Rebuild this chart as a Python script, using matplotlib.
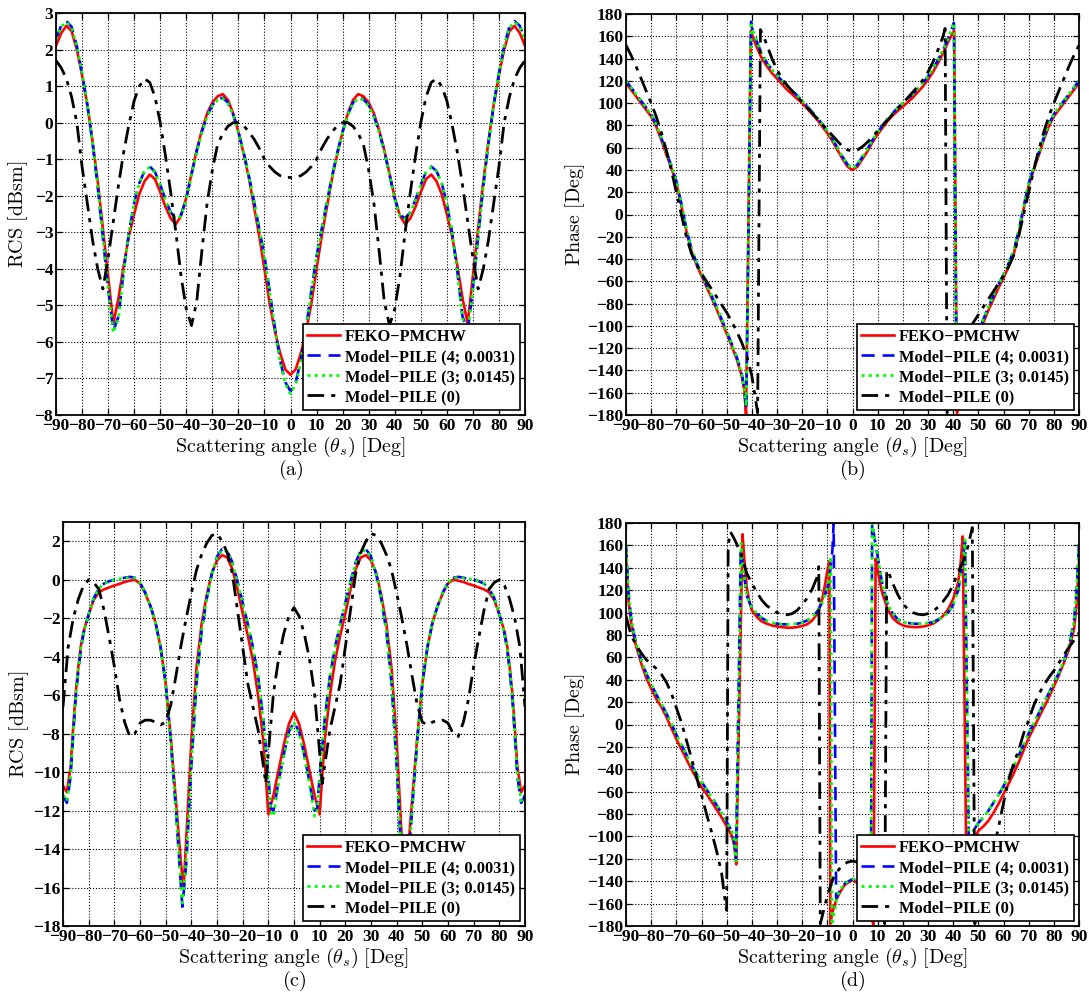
import matplotlib
matplotlib.use("Agg")
import matplotlib.pyplot as plt

plt.rcParams["font.family"] = "serif"
plt.rcParams["font.serif"] = ["Liberation Serif", "DejaVu Serif"]
plt.rcParams["mathtext.fontset"] = "cm"

LABELS = ["FEKO\u2212PMCHW", "Model\u2212PILE (4; 0.0031)",
          "Model\u2212PILE (3; 0.0145)", "Model\u2212PILE (0)"]

# ---------------- (a) RCS, case 1 ----------------
a_x = list(range(-90, 91, 2))
a_feko = [2.10, 2.45, 2.65, 2.50, 2.00, 1.30, 0.50, -0.50, -1.60, -2.90, -4.20, -5.50, -4.80, -3.90,
          -3.10, -2.50, -1.95, -1.60, -1.42, -1.55, -1.90, -2.30, -2.62, -2.78, -2.55, -2.05, -1.40,
          -0.75, -0.20, 0.25, 0.55, 0.72, 0.78, 0.62, 0.25, -0.25, -0.85, -1.50, -2.30, -3.10, -4.00,
          -4.95, -5.70, -6.30, -6.75, -6.90,
          -6.75, -6.30, -5.70, -4.95, -4.00, -3.10, -2.30, -1.50, -0.85, -0.25, 0.25, 0.62, 0.78, 0.72,
          0.55, 0.25, -0.20, -0.75, -1.40, -2.05, -2.55, -2.78, -2.62, -2.30, -1.90, -1.55, -1.42, -1.60,
          -1.95, -2.50, -3.10, -3.90, -4.80, -5.50, -4.20, -2.90, -1.60, -0.50, 0.50, 1.30, 2.00, 2.50,
          2.65, 2.45, 2.10]
a_pile4 = [2.30, 2.65, 2.78, 2.62, 2.10, 1.35, 0.50, -0.55, -1.75, -3.15, -4.55, -5.70, -5.30, -4.05,
           -3.00, -2.20, -1.65, -1.32, -1.20, -1.35, -1.70, -2.10, -2.45, -2.62, -2.52, -2.08, -1.42,
           -0.78, -0.25, 0.18, 0.48, 0.64, 0.68, 0.55, 0.22, -0.25, -0.80, -1.45, -2.15, -2.90, -3.65,
           -4.60, -5.60, -6.50, -7.10, -7.35,
           -7.10, -6.50, -5.60, -4.60, -3.65, -2.90, -2.15, -1.45, -0.80, -0.25, 0.22, 0.55, 0.68, 0.64,
           0.48, 0.18, -0.25, -0.78, -1.42, -2.08, -2.52, -2.62, -2.45, -2.10, -1.70, -1.35, -1.20, -1.32,
           -1.65, -2.20, -3.00, -4.05, -5.30, -5.70, -4.55, -3.15, -1.75, -0.55, 0.50, 1.35, 2.10, 2.62,
           2.78, 2.65, 2.30]
a_pile3 = [2.28, 2.63, 2.75, 2.60, 2.10, 1.35, 0.52, -0.52, -1.72, -3.12, -4.55, -5.75, -5.35, -4.08,
           -3.00, -2.20, -1.65, -1.32, -1.22, -1.37, -1.72, -2.12, -2.47, -2.64, -2.55, -2.10, -1.44,
           -0.80, -0.27, 0.16, 0.46, 0.62, 0.66, 0.53, 0.20, -0.27, -0.82, -1.47, -2.17, -2.92, -3.68,
           -4.65, -5.65, -6.55, -7.15, -7.42,
           -7.15, -6.55, -5.65, -4.65, -3.68, -2.92, -2.17, -1.47, -0.82, -0.27, 0.20, 0.53, 0.66, 0.62,
           0.46, 0.16, -0.27, -0.80, -1.44, -2.10, -2.55, -2.64, -2.47, -2.12, -1.72, -1.37, -1.22, -1.32,
           -1.65, -2.20, -3.00, -4.08, -5.35, -5.75, -4.55, -3.12, -1.72, -0.52, 0.52, 1.35, 2.10, 2.60,
           2.75, 2.63, 2.28]
a_pile0 = [1.70, 1.50, 1.20, 0.70, 0.00, -1.20, -2.20, -3.20, -4.00, -4.55, -3.70, -2.70, -1.70, -0.80,
           -0.05, 0.60, 1.00, 1.20, 1.10, 0.70, 0.00, -0.90, -1.90, -3.00, -4.20, -5.10, -5.55, -4.90,
           -3.50, -2.20, -1.30, -0.60, -0.30, -0.10, 0.00, 0.00, -0.08, -0.25, -0.45, -0.70, -1.00,
           -1.20, -1.35, -1.45, -1.50, -1.50,
           -1.50, -1.45, -1.35, -1.20, -1.00, -0.70, -0.45, -0.25, -0.08, 0.00, 0.00, -0.10, -0.30, -0.60,
           -1.30, -2.20, -3.50, -4.90, -5.55, -5.10, -4.20, -3.00, -1.90, -0.90, 0.00, 0.70, 1.10, 1.20,
           1.00, 0.60, -0.05, -0.80, -1.70, -2.70, -3.70, -4.55, -4.00, -3.20, -2.20, -1.20, 0.00, 0.70,
           1.20, 1.50, 1.70]

# ---------------- (b) phase, case 1 ----------------
b_feko_x = [-90, -88, -86, -84, -82, -80, -78, -76, -74, -72, -70, -68, -66, -64, -62, -60, -58, -56,
            -54, -52, -50, -48, -46, -44, -43, -42.3, -40.4, -40, -38, -36, -34, -32, -30, -28, -26,
            -24, -22, -20, -18, -16, -14, -12, -10, -8, -6, -4, -2, 0,
            2, 4, 6, 8, 10, 12, 14, 16, 18, 20, 22, 24, 26, 28, 30, 32, 34, 36, 38, 40.4, 41.5, 43,
            44, 46, 48, 50, 52, 54, 56, 58, 60, 62, 64, 66, 68, 70, 72, 74, 76, 78, 80, 82, 84, 86, 88, 90]
b_feko = [118, 112, 106, 100, 94, 88, 79, 67, 54, 42, 28, 8, -15, -33, -45, -55, -65, -75,
          -85, -96, -107, -118, -130, -145, -158, -180, 165, 162, 150, 140, 133, 127, 122, 117, 112,
          108, 104, 100, 95, 90, 85, 79, 73, 66, 58, 50, 43, 40,
          43, 50, 57, 65, 72, 78, 84, 89, 93, 97, 101, 105, 110, 115, 121, 128, 136, 145, 155, 165, -180, -158,
          -145, -130, -118, -108, -97, -86, -76, -66, -57, -47, -36, -18, 5, 26, 40, 53, 67, 79, 88, 94, 100,
          106, 112, 118]
b_pile4_x = [-90, -88, -86, -84, -82, -80, -78, -76, -74, -72, -70, -68, -66, -64, -62, -60, -58, -56,
             -54, -52, -50, -48, -46, -44, -43, -42.2, -40.3, -40, -38, -36, -34, -32, -30, -28, -26,
             -24, -22, -20, -18, -16, -14, -12, -10, -8, -6, -4, -2, 0,
             2, 4, 6, 8, 10, 12, 14, 16, 18, 20, 22, 24, 26, 28, 30, 32, 34, 36, 38, 40.3, 41.4, 43,
             44, 46, 48, 50, 52, 54, 56, 58, 60, 62, 64, 66, 68, 70, 72, 74, 76, 78, 80, 82, 84, 86, 88, 90]
b_pile4 = [120, 114, 108, 102, 96, 90, 81, 69, 56, 44, 30, 10, -13, -31, -43, -53, -63, -73,
           -83, -94, -105, -116, -128, -143, -156, -176, 173, 168, 155, 144, 136, 130, 125, 120, 115,
           111, 107, 102, 97, 92, 87, 81, 75, 68, 60, 52, 45, 41,
           45, 52, 59, 67, 74, 80, 86, 91, 96, 100, 104, 108, 113, 118, 124, 131, 139, 148, 158, 172, -176, -156,
           -143, -128, -116, -105, -94, -83, -73, -63, -54, -44, -33, -15, 7, 28, 42, 55, 69, 81, 90, 96, 102,
           108, 114, 120]
b_pile3 = [120, 114, 108, 102, 96, 90, 81, 69, 56, 44, 30, 10, -13, -31, -43, -53, -63, -73,
           -83, -94, -105, -116, -128, -143, -156, -172, 173, 168, 155, 144, 136, 130, 125, 120, 115,
           111, 107, 102, 97, 92, 87, 81, 75, 68, 60, 52, 45, 41,
           45, 52, 59, 67, 74, 80, 86, 91, 96, 100, 104, 108, 113, 118, 124, 131, 139, 148, 158, 172, -172, -156,
           -143, -128, -116, -105, -94, -83, -73, -63, -54, -44, -33, -15, 7, 28, 42, 55, 69, 81, 90, 96, 102,
           108, 114, 120]
b_pile0_x = [-90, -88, -86, -84, -82, -80, -78, -76, -74, -72, -70, -68, -66, -64, -62, -60, -58, -56,
             -54, -52, -50, -48, -46, -44, -42, -40, -38.5, -37.7, -36.6, -35, -34, -32, -30, -28, -26,
             -24, -22, -20, -18, -16, -14, -12, -10, -8, -6, -4, -2, 0,
             2, 4, 6, 8, 10, 12, 14, 16, 18, 20, 22, 24, 26, 28, 30, 32, 34, 36, 36.8, 37.6, 38.5, 40,
             42, 44, 46, 48, 50, 52, 54, 56, 58, 60, 62, 64, 66, 68, 70, 72, 74, 76, 78, 80, 82, 84, 86, 88, 90]
b_pile0 = [152, 143, 133, 122, 111, 100, 88, 74, 58, 40, 20, 0, -20, -35, -45, -53, -60, -67,
           -74, -81, -88, -96, -105, -115, -127, -145, -166, -178, 166, 158, 152, 140, 130, 122, 116,
           111, 106, 101, 96, 91, 86, 81, 76, 71, 66, 61, 58, 57,
           58, 61, 65, 70, 75, 80, 85, 90, 95, 100, 105, 110, 115, 121, 128, 137, 148, 160, 167, -178, -166, -147,
           -128, -115, -105, -97, -90, -83, -76, -69, -62, -55, -47, -37, -20, 0, 20, 40, 58, 74, 88, 100, 111,
           122, 133, 143, 152]

# ---------------- (c) RCS, case 2 ----------------
c_feko_x = [-90, -88.5, -87, -86, -85, -84, -83, -82, -80, -78, -76, -74, -72, -70, -68, -66, -64, -62,
            -60, -58, -56, -54, -52, -50, -48, -46, -44, -43, -42, -40, -38, -36, -34, -32, -30, -28,
            -26, -24, -22, -20, -18, -16, -14, -12, -11, -10, -8, -6, -4, -2, 0,
            2, 4, 6, 8, 10, 11, 12, 14, 16, 18, 20, 22, 24, 26, 28, 30, 32, 34, 36, 38, 40, 42, 43, 44,
            46, 48, 50, 52, 54, 56, 58, 60, 62, 64, 66, 68, 70, 72, 74, 76, 78, 80, 82, 83, 84, 85, 86,
            87, 88.5, 90]
c_feko = [-10.7, -11.05, -9.7, -7.6, -5.8, -4.5, -3.4, -2.7, -1.8, -1.05, -0.65, -0.5, -0.4, -0.3,
          -0.22, -0.12, -0.05, 0.0, -0.2, -0.7, -1.35, -2.2, -3.5, -5.4, -8.2, -11.5, -14.8, -16.0,
          -13.5, -8.4, -4.6, -2.3, -0.8, 0.35, 1.0, 1.28, 1.15, 0.55, -0.5, -1.75, -2.9, -4.2, -6.0,
          -8.3, -10.2, -12.2, -11.2, -9.9, -8.6, -7.5, -6.9,
          -7.5, -8.6, -9.9, -11.2, -12.2, -10.2, -8.3, -6.0, -4.2, -2.9, -1.75, -0.5, 0.55, 1.15, 1.28,
          1.0, 0.35, -0.8, -2.3, -4.6, -8.4, -13.5, -16.0, -14.8, -11.5, -8.2, -5.4, -3.5, -2.2, -1.35,
          -0.7, -0.2, 0.0, -0.05, -0.12, -0.22, -0.3, -0.4, -0.5, -0.65, -1.05, -1.8, -2.7, -3.4, -4.5,
          -5.8, -7.6, -9.7, -11.05, -10.7]
c_pile_x = [-90, -88.5, -87, -86, -85, -84, -83, -82, -80, -78, -76, -74, -72, -70, -68, -66, -64, -62,
            -60, -58, -56, -54, -52, -50, -48, -46, -44, -43.5, -42, -40, -38, -36, -34, -32, -30, -28,
            -26, -24, -22, -20, -18, -16, -14, -12, -10, -9, -8, -6, -4, -2, 0,
            2, 4, 6, 8, 9, 10, 12, 14, 16, 18, 20, 22, 24, 26, 28, 30, 32, 34, 36, 38, 40, 42, 43.5, 44,
            46, 48, 50, 52, 54, 56, 58, 60, 62, 64, 66, 68, 70, 72, 74, 76, 78, 80, 82, 83, 84, 85, 86,
            87, 88.5, 90]
c_pile4 = [-11.2, -11.6, -10.2, -8.0, -6.1, -4.7, -3.6, -2.8, -1.8, -0.95, -0.45, -0.2, -0.08, 0.0,
           0.05, 0.1, 0.15, 0.1, -0.15, -0.65, -1.35, -2.2, -3.5, -5.4, -8.4, -12.0, -16.0, -17.0,
           -14.8, -9.7, -5.4, -2.7, -1.0, 0.3, 1.2, 1.6, 1.5, 0.9, -0.1, -1.2, -2.3, -3.5, -5.0, -7.2,
           -10.2, -11.9, -12.0, -10.5, -9.1, -7.9, -7.4,
           -7.9, -9.1, -10.5, -12.0, -11.9, -10.2, -7.2, -5.0, -3.5, -2.3, -1.2, -0.1, 0.9, 1.5, 1.6,
           1.2, 0.3, -1.0, -2.7, -5.4, -9.7, -14.8, -17.0, -16.0, -12.0, -8.4, -5.4, -3.5, -2.2, -1.35,
           -0.65, -0.15, 0.1, 0.15, 0.1, 0.05, 0.0, -0.08, -0.2, -0.45, -0.95, -1.8, -2.8, -3.6, -4.7,
           -6.1, -8.0, -10.2, -11.6, -11.2]
c_pile3 = [-11.2, -11.5, -10.1, -7.9, -6.0, -4.6, -3.5, -2.8, -1.8, -0.95, -0.45, -0.2, -0.08, 0.0,
           0.05, 0.08, 0.12, 0.08, -0.15, -0.65, -1.35, -2.2, -3.5, -5.4, -8.4, -12.0, -16.0, -16.8,
           -14.6, -9.6, -5.3, -2.7, -1.0, 0.3, 1.15, 1.55, 1.45, 0.85, -0.15, -1.25, -2.35, -3.55, -5.1,
           -7.3, -10.4, -12.1, -12.3, -10.6, -9.2, -8.0, -7.45,
           -8.0, -9.2, -10.6, -12.3, -12.1, -10.4, -7.3, -5.1, -3.55, -2.35, -1.25, -0.15, 0.85, 1.45,
           1.55, 1.15, 0.3, -1.0, -2.7, -5.3, -9.6, -14.6, -16.8, -16.0, -12.0, -8.4, -5.4, -3.5, -2.2,
           -1.35, -0.65, -0.15, 0.08, 0.12, 0.08, 0.05, 0.0, -0.08, -0.2, -0.45, -0.95, -1.8, -2.8, -3.5,
           -4.6, -6.0, -7.9, -10.1, -11.5, -11.2]
c_pile0_x = [-90, -88, -86, -84, -82, -80, -78, -76, -74, -72, -70, -68, -66, -64, -62, -60, -58, -56,
             -54, -52, -50, -48, -46, -44, -42, -40, -38, -36, -34, -32, -30, -28, -26, -24, -22, -20,
             -18, -16, -14, -12, -11, -10, -8, -6, -4, -2, 0,
             2, 4, 6, 8, 10, 11, 12, 14, 16, 18, 20, 22, 24, 26, 28, 30, 32, 34, 36, 38, 40, 42, 44, 46,
             48, 50, 52, 54, 56, 58, 60, 62, 64, 66, 68, 70, 72, 74, 76, 78, 80, 82, 84, 86, 88, 90]
c_pile0 = [-6.6, -3.5, -2.0, -1.0, -0.3, 0.0, -0.15, -0.5, -1.6, -3.0, -4.5, -6.2, -7.4, -8.15, -8.0,
           -7.45, -7.3, -7.3, -7.4, -7.55, -7.4, -6.5, -5.0, -3.4, -2.0, -0.7, 0.5, 1.3, 1.9, 2.3, 2.4,
           2.0, 1.4, 0.3, -1.6, -3.5, -5.4, -6.6, -7.8, -9.6, -10.6, -9.0, -5.9, -4.1, -2.8, -1.9, -1.45,
           -1.9, -2.8, -4.1, -5.9, -9.0, -10.6, -9.6, -7.8, -6.6, -5.4, -3.5, -1.6, 0.3, 1.4, 2.0, 2.4,
           2.3, 1.9, 1.3, 0.5, -0.7, -2.0, -3.4, -5.0, -6.5, -7.4, -7.55, -7.4, -7.3, -7.3, -7.45, -8.0,
           -8.15, -7.4, -6.2, -4.5, -3.0, -1.6, -0.5, -0.15, 0.0, -0.3, -1.0, -2.0, -3.5, -6.6]

# ---------------- (d) phase, case 2 ----------------
d_feko_x = [-90, -89, -88, -87, -86, -84, -82, -80, -78, -76, -74, -72, -70, -68, -66, -64, -62, -60,
            -58, -56, -54, -52, -50, -48, -47, -46.2, -43.7, -43, -42, -41, -40, -38, -36, -34, -32,
            -30, -28, -26, -24, -22, -20, -18, -16, -14, -12, -11, -10, -9.2, -8.8, -8, -6.5, -5, -3, 0,
            3, 5, 6.5, 7.5, 8.3, 9.2, 10, 11, 12, 14, 16, 18, 20, 22, 24, 26, 28, 30, 32, 34, 36, 38, 40,
            42, 43, 43.8, 45.2, 47, 48, 50, 52, 54, 56, 58, 60, 62, 64, 66, 68, 70, 72, 74, 76, 78, 80,
            82, 84, 86, 88, 89, 90]
d_feko = [150, 110, 92, 80, 70, 55, 42, 32, 23, 16, 7, -3, -13, -22, -31, -40, -48, -56,
          -62, -69, -76, -83, -91, -99, -108, -125, 170, 148, 122, 110, 102, 96, 92, 90, 88.5,
          87.5, 87, 86.5, 86.5, 87, 88, 89.5, 93, 99, 112, 124, 137, 146, -178, -168, -157, -150, -143, -139,
          -143, -150, -160, -172, -179, 148, 138, 126, 116, 103, 95, 91, 88.5, 87.5, 87, 87, 87.5, 88.5, 90,
          93, 97, 103, 112, 127, 145, 168, -120, -112, -104, -95, -91, -86, -79, -71, -62, -53, -44, -34, -23,
          -12, -3, 6, 15, 24, 34, 44, 55, 67, 85, 105, 145]
d_pile4_x = [-90, -89, -88, -87, -86, -84, -82, -80, -78, -76, -74, -72, -70, -68, -66, -64, -62, -60,
             -58, -56, -54, -52, -50, -48, -47, -46.3, -44.4, -44, -43, -42, -40, -38, -36, -34, -32,
             -30, -28, -26, -24, -22, -20, -18, -16, -14, -12, -10, -9, -8, -7.5, -6.5, -5, -3, 0,
             3, 5, 6.5, 7.3, 7.8, 9, 10, 11, 12, 14, 16, 18, 20, 24, 28, 32, 36, 38, 40,
             42, 43, 44, 44.7, 46.3, 47, 48, 50, 52, 54, 56, 58, 60, 62, 64, 66, 68, 70, 72, 74, 76, 78, 80,
             82, 84, 86, 88, 89, 90]
d_pile4 = [161, 118, 96, 83, 73, 58, 46, 36, 27, 19, 10, 1, -9, -18, -27, -36, -44, -51,
           -58, -65, -72, -79, -87, -95, -104, -120, 157, 150, 132, 115, 104, 99, 95, 92.5, 91,
           90, 89.5, 89.5, 89.5, 90, 91, 93, 96, 101, 109, 122, 135, 155, 180, -155, -148, -142, -138,
           -142, -148, -158, -176, 180, 163, 150, 136, 124, 107, 99, 94, 91.5, 90, 90, 91.5, 96, 100, 107,
           120, 132, 150, 163, -120, -104, -95, -88, -83, -77, -70, -63, -55, -47, -38, -28, -18, -8, 1,
           10, 19, 28, 37, 46, 57, 70, 92, 118, 161]
d_pile3_x = [-90, -89, -88, -87, -86, -84, -82, -80, -78, -76, -74, -72, -70, -68, -66, -64, -62, -60,
             -58, -56, -54, -52, -50, -48, -47, -46.3, -44.2, -44, -43, -42, -40, -38, -36, -34, -32,
             -30, -28, -26, -24, -22, -20, -18, -16, -14, -12, -10, -9, -8.6, -8.2, -7, -6, -5, -3, 0,
             3, 5, 6.5, 7.3, 7.8, 9, 10, 11, 12, 14, 16, 18, 20, 24, 28, 32, 36, 38, 40,
             42, 43, 44, 44.7, 46.3, 47, 48, 50, 52, 54, 56, 58, 60, 62, 64, 66, 68, 70, 72, 74, 76, 78, 80,
             82, 84, 86, 88, 89, 90]
d_pile3 = [161, 118, 96, 83, 73, 58, 46, 36, 27, 19, 10, 1, -9, -18, -27, -36, -44, -51,
           -58, -65, -72, -79, -87, -95, -104, -122, 162, 152, 132, 115, 104, 99, 95, 92.5, 91,
           90, 89.5, 89.5, 89.5, 90, 91, 93, 96, 101, 109, 122, 138, 150, -179, -165, -153, -148, -142, -138,
           -142, -148, -158, -176, 180, 163, 150, 136, 124, 107, 99, 94, 91.5, 90, 90, 91.5, 96, 100, 107,
           120, 132, 150, 165, -120, -104, -95, -88, -83, -77, -70, -63, -55, -47, -38, -28, -18, -8, 1,
           10, 19, 28, 37, 46, 57, 70, 92, 118, 161]
d_pile0_x = [-90, -88, -86, -84, -82, -80, -78, -76, -74, -72, -70, -68, -66, -64, -62, -60, -58, -56,
             -54, -52, -50.6, -50, -49.4, -48.5, -47, -46, -44, -42, -40, -38, -36, -34, -32, -30, -28,
             -26, -24, -22, -20, -18, -16, -14, -13.4, -12.8, -12, -10, -8, -6, -4, -2, 0,
             2, 4, 6, 8, 10, 12, 12.8, 13.6, 14.5, 16, 18, 20, 22, 24, 26, 28, 30, 32, 34, 36, 38, 40,
             42, 44, 46, 47.6, 48.6, 50, 52, 54, 56, 58, 60, 62, 64, 66, 68, 70, 72, 74, 76, 78, 80, 82,
             84, 86, 88, 90]
d_pile0 = [97, 80, 71, 64, 58, 54, 50, 45, 38, 28, 15, 2, -14, -30, -47, -63, -80, -96,
           -113, -133, -158, -166, 160, 172, 166, 161, 150, 135, 126, 118, 111, 106, 103, 100, 98.5,
           98, 99, 102, 107, 113, 121, 132, 141, -178, -171, -153, -139, -131, -126, -123, -122,
           -123, -126, -131, -139, -153, -171, -178, 138, 135, 126, 116, 108, 103, 100, 98.5, 98, 99, 101,
           105, 110, 116, 125, 136, 146, 160, 176, -178, -165, -145, -128, -112, -92, -70, -50, -35, -23,
           -8, 4, 17, 27, 35, 42, 48, 55, 62, 69, 75, 82]

STYLES = [
    dict(color="#ff0000", lw=1.9, ls="-"),
    dict(color="#0000ff", lw=1.9, ls=(0, (5, 3))),
    dict(color="#00ff00", lw=2.0, ls=(0, (1.1, 1.5))),
    dict(color="#000000", lw=2.0, ls=(0, (6, 2.5, 1.5, 2.5))),
]

fig = plt.figure(figsize=(10.89, 9.92), dpi=100)
W, H = 1089.0, 992.0


def make_axes(l, t, r, b):
    return fig.add_axes([l / W, 1 - b / H, (r - l) / W, (b - t) / H])


def draw(ax, curves, ylim, ystep, ylabel, tag, ylab_x):
    for (x, y), st in zip(curves, STYLES):
        ax.plot(x, y, **st)
    ax.set_xlim(-90, 90)
    ax.set_ylim(*ylim)
    ax.set_xticks(range(-90, 91, 10))
    ax.set_yticks(range(ylim[0], ylim[1] + 1, ystep))
    ax.grid(True, ls=":", color="k", lw=0.8)
    ax.tick_params(direction="in", top=True, right=True, length=4, width=0.9,
                   pad=2, labelsize=12.5)
    for lbl in ax.get_xticklabels() + ax.get_yticklabels():
        lbl.set_fontweight("bold")
    for sp in ax.spines.values():
        sp.set_linewidth(1.3)
    ax.set_xlabel(r"$\mathrm{Scattering\ angle\ (}\theta_s\mathrm{)\ [Deg]}$", fontsize=14.5, labelpad=1)
    ax.set_ylabel(ylabel, fontsize=14.5)
    ax.yaxis.set_label_coords(ylab_x, 0.5)
    ax.text(0.5, -0.137, r"$\mathrm{(%s)}$" % tag, transform=ax.transAxes,
            ha="center", va="center", fontsize=14.5)
    leg = ax.legend(LABELS, loc="lower right", prop=dict(weight="bold", size=11.8),
                    handlelength=2.0, handletextpad=0.3, labelspacing=0.25, borderpad=0.3,
                    borderaxespad=0.3, fancybox=False, framealpha=1, edgecolor="k")
    leg.get_frame().set_linewidth(1.2)


rcs_label = r"$\mathrm{RCS\ [dBsm]}$"
ph_label = r"$\mathrm{Phase\ [Deg]}$"

ax_a = make_axes(56, 13, 525, 415)
draw(ax_a, [(a_x, a_feko), (a_x, a_pile4), (a_x, a_pile3), (a_x, a_pile0)],
     (-8, 3), 1, rcs_label, "a", -0.055)

ax_b = make_axes(626, 14, 1079, 415)
draw(ax_b, [(b_feko_x, b_feko), (b_pile4_x, b_pile4), (b_pile4_x, b_pile3), (b_pile0_x, b_pile0)],
     (-180, 180), 20, ph_label, "b", -0.085)

ax_c = make_axes(63, 522, 525, 926)
draw(ax_c, [(c_feko_x, c_feko), (c_pile_x, c_pile4), (c_pile_x, c_pile3), (c_pile0_x, c_pile0)],
     (-18, 2), 2, rcs_label, "c", -0.07)
ax_c.set_ylim(-18, 3)

ax_d = make_axes(626, 523, 1079, 926)
draw(ax_d, [(d_feko_x, d_feko), (d_pile4_x, d_pile4), (d_pile3_x, d_pile3), (d_pile0_x, d_pile0)],
     (-180, 180), 20, ph_label, "d", -0.085)

fig.savefig("out.png", dpi=100)
